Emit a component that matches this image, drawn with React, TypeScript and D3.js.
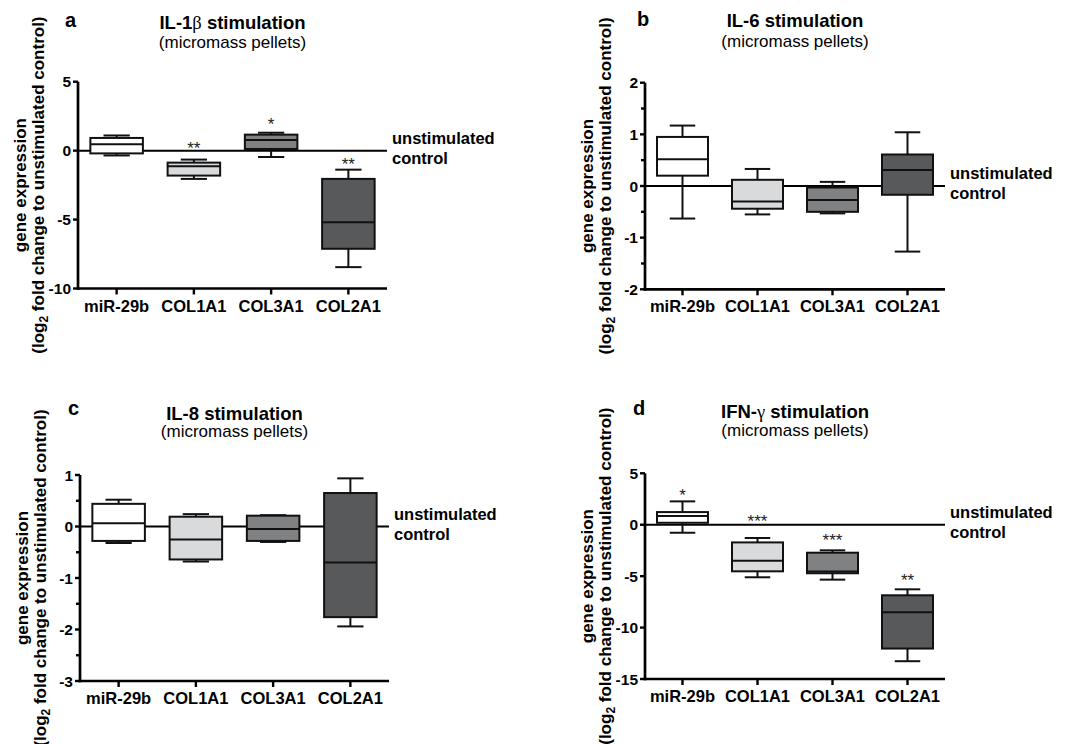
import React from 'react';
import * as d3 from 'd3';

// categories shared by all four panels
const categories = ['miR-29b', 'COL1A1', 'COL3A1', 'COL2A1'];
const boxFills = ['#ffffff', '#d9dadb', '#808183', '#58595b'];

// five-number summaries per category: [min, q1, median, q3, max]
const il1bStats = [
  [-0.35, -0.2, 0.47, 0.92, 1.1],
  [-2.05, -1.81, -1.14, -0.87, -0.65],
  [-0.46, 0.12, 0.78, 1.16, 1.3],
  [-8.45, -7.12, -5.2, -2.05, -1.38],
];
const il6Stats = [
  [-0.63, 0.2, 0.52, 0.95, 1.17],
  [-0.55, -0.44, -0.3, 0.12, 0.33],
  [-0.53, -0.5, -0.27, -0.03, 0.08],
  [-1.27, -0.17, 0.31, 0.61, 1.04],
];
const il8Stats = [
  [-0.32, -0.28, 0.065, 0.44, 0.52],
  [-0.68, -0.64, -0.25, 0.19, 0.24],
  [-0.3, -0.28, -0.05, 0.21, 0.22],
  [-1.94, -1.76, -0.7, 0.65, 0.935],
];
const ifngStats = [
  [-0.78, 0.19, 0.84, 1.23, 2.27],
  [-5.11, -4.53, -3.5, -1.72, -1.29],
  [-5.34, -4.72, -4.56, -2.72, -2.49],
  [-13.27, -12.04, -8.51, -6.86, -6.28],
];

// significance marks and where they sit (in y units)
const il1bSig = ['', '**', '*', '**'];
const il1bSigAt = [0, 0.5, 2.25, -0.68];
const ifngSig = ['*', '***', '***', '**'];
const ifngSigAt = [3.24, 0.74, -1.1, -4.98];
const noSig = ['', '', '', ''];

const il1bTicks = [-10, -5, 0, 5];
const il6Ticks = [-2, -1, 0, 1, 2];
const il8Ticks = [-3, -2, -1, 0, 1];
const ifngTicks = [-15, -10, -5, 0, 5];

const font = 'Liberation Sans, Arial, Helvetica, sans-serif';

const panels = [
  {
    letter: 'a', title: ['IL-1', 'β', ' stimulation'], stats: il1bStats, sig: il1bSig, sigAt: il1bSigAt,
    ticks: il1bTicks, minor: false,
    left: 78, right: 387, top: 81.7, bottom: 288.5, letterX: 65, letterY: 27, titleY: 29, subY: 48,
  },
  {
    letter: 'b', title: ['IL-6 stimulation', '', ''], stats: il6Stats, sig: noSig, sigAt: [0, 0, 0, 0],
    ticks: il6Ticks, minor: true,
    left: 645, right: 945, top: 82.7, bottom: 289.3, letterX: 637, letterY: 26, titleY: 27, subY: 47,
  },
  {
    letter: 'c', title: ['IL-8 stimulation', '', ''], stats: il8Stats, sig: noSig, sigAt: [0, 0, 0, 0],
    ticks: il8Ticks, minor: true,
    left: 80, right: 389, top: 475, bottom: 681, letterX: 68, letterY: 415, titleY: 420, subY: 437,
  },
  {
    letter: 'd', title: ['IFN-', 'γ', ' stimulation'], stats: ifngStats, sig: ifngSig, sigAt: ifngSigAt,
    ticks: ifngTicks, minor: false,
    left: 645, right: 945, top: 473.3, bottom: 679, letterX: 633, letterY: 415, titleY: 418, subY: 436,
  },
];

function Panel({ p }: { p: any }) {
  const x = d3.scaleBand().domain(categories).range([p.left, p.right]).padding(0);
  const y = d3.scaleLinear()
    .domain([p.ticks[0], p.ticks[p.ticks.length - 1]])
    .range([p.bottom, p.top]);
  const step = p.ticks[1] - p.ticks[0];
  const minorTicks = p.minor
    ? d3.range(p.ticks[0] + step / 2, p.ticks[p.ticks.length - 1], step)
    : [];
  const bw = x.bandwidth() * 0.68;
  const cx = (p.left + p.right) / 2;
  const cy = (p.top + p.bottom) / 2;

  return (
    <g fontFamily={font}>
      {/* panel letter + titles */}
      <text x={p.letterX} y={p.letterY} fontSize={20} fontWeight="bold">{p.letter}</text>
      <text x={cx} y={p.titleY} fontSize={18.5} fontWeight="bold" textAnchor="middle">
        {p.title[0]}
        {p.title[1] && <tspan fontFamily="Liberation Serif, serif" fontWeight="normal">{p.title[1]}</tspan>}
        {p.title[2]}
      </text>
      <text x={cx} y={p.subY} fontSize={17} textAnchor="middle">(micromass pellets)</text>

      {/* y axis title */}
      <g transform={`translate(${p.left - 52},${cy}) rotate(-90)`}>
        <text fontSize={17} fontWeight="bold" textAnchor="middle">gene expression</text>
      </g>
      <g transform={`translate(${p.left - 34},${cy}) rotate(-90)`}>
        <text fontSize={17} fontWeight="bold" textAnchor="middle">
          (log<tspan fontSize={12} dy={4}>2</tspan><tspan dy={-4}> fold change to unstimulated control)</tspan>
        </text>
      </g>

      {/* zero line */}
      <line x1={p.left} x2={p.right} y1={y(0)} y2={y(0)} stroke="#000" strokeWidth={2} />
      <text x={p.right + 5} y={y(0) - 7} fontSize={16.5} fontWeight="bold">unstimulated</text>
      <text x={p.right + 5} y={y(0) + 13} fontSize={16.5} fontWeight="bold">control</text>

      {/* boxes */}
      {categories.map((c, i) => {
        const [lo, q1, med, q3, hi] = p.stats[i];
        const mx = x(c)! + x.bandwidth() / 2;
        return (
          <g key={c} stroke="#111" strokeWidth={2}>
            <line x1={mx} x2={mx} y1={y(q3)} y2={y(hi)} />
            <line x1={mx} x2={mx} y1={y(q1)} y2={y(lo)} />
            <line x1={mx - bw / 4} x2={mx + bw / 4} y1={y(hi)} y2={y(hi)} />
            <line x1={mx - bw / 4} x2={mx + bw / 4} y1={y(lo)} y2={y(lo)} />
            <rect x={mx - bw / 2} width={bw} y={y(q3)} height={y(q1) - y(q3)} fill={boxFills[i]} />
            <line x1={mx - bw / 2} x2={mx + bw / 2} y1={y(med)} y2={y(med)} />
            {p.sig[i] && (
              <text x={mx} y={y(p.sigAt[i]) + 10} fontSize={17} textAnchor="middle"
                stroke="none" fill="#222">{p.sig[i]}</text>
            )}
          </g>
        );
      })}

      {/* y axis */}
      <line x1={p.left} x2={p.left} y1={p.top} y2={p.bottom + 1.3} stroke="#000" strokeWidth={2.7} />
      {p.ticks.map((t: number) => (
        <g key={t}>
          <line x1={p.left - 5} x2={p.left} y1={y(t)} y2={y(t)} stroke="#000" strokeWidth={2.4} />
          <text x={p.left - 7} y={y(t)} dy="0.36em" fontSize={15.5} fontWeight="bold" textAnchor="end">{t}</text>
        </g>
      ))}
      {minorTicks.map((t: number) => (
        <line key={'m' + t} x1={p.left - 4} x2={p.left} y1={y(t)} y2={y(t)} stroke="#000" strokeWidth={2.4} />
      ))}

      {/* x axis */}
      <line x1={p.left - 1.3} x2={p.right} y1={p.bottom} y2={p.bottom} stroke="#000" strokeWidth={2.7} />
      {categories.map((c) => {
        const mx = x(c)! + x.bandwidth() / 2;
        return (
          <g key={c}>
            <line x1={mx} x2={mx} y1={p.bottom} y2={p.bottom + 6} stroke="#000" strokeWidth={2.4} />
            <text x={mx} y={p.bottom + 23} fontSize={16.5} fontWeight="bold" textAnchor="middle">{c}</text>
          </g>
        );
      })}
    </g>
  );
}

export default function App() {
  return (
    <svg width={1083} height={744} style={{ position: 'absolute', left: 0, top: 0, background: '#fff' }}>
      <rect width={1083} height={744} fill="#fff" />
      {panels.map((p) => <Panel key={p.letter} p={p} />)}
    </svg>
  );
}
